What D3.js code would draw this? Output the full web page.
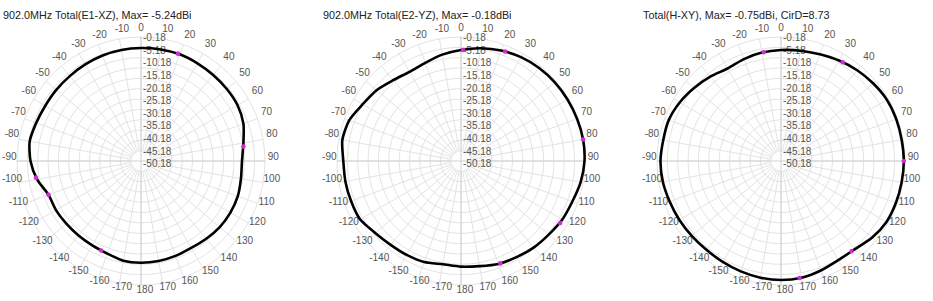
<!DOCTYPE html>
<html>
<head>
<meta charset="utf-8">
<script src="https://cdn.jsdelivr.net/npm/d3@7/dist/d3.min.js"></script>
<style>
  body { margin: 0; background: #fff; }
  text { font-family: "Liberation Sans", Arial, sans-serif; }
</style>
</head>
<body>
<svg id="chart" width="933" height="301"></svg>
<script>
// angles of the measured points, degrees clockwise from top
const angles = [0, 10, 20, 30, 40, 50, 60, 70, 80, 90, 100, 110, 120, 130, 140, 150, 160, 170,
  180, 190, 200, 210, 220, 230, 240, 250, 260, 270, 280, 290, 300, 310, 320, 330, 340, 350];

// gain in dBi
const e1xz = [-5.50, -5.36, -5.24, -5.60, -5.84, -5.99, -6.23, -7.44, -9.86, -11.31, -11.07, -10.34,
  -10.24, -10.44, -11.07, -11.60, -11.31, -11.07, -10.97, -11.16, -12.52, -13.05, -13.15, -13.00,
  -12.66, -12.52, -9.13, -6.71, -5.50, -6.23, -6.71, -6.66, -6.57, -6.23, -5.84, -5.60];
const e2yz = [-6.47, -4.78, -3.33, -2.12, -1.39, -0.91, -0.66, -0.42, -0.18, -0.42, -1.39, -2.84,
  -3.57, -4.78, -5.50, -6.47, -7.20, -8.55, -9.08, -9.47, -8.16, -7.68, -7.20, -5.99,
  -3.76, -3.57, -3.37, -3.23, -1.87, -2.60, -5.26, -6.86, -9.13, -10.34, -9.62, -7.92];
const hxy = [-6.47, -5.99, -5.26, -4.05, -2.84, -1.87, -1.00, -0.85, -0.90, -0.75, -0.90, -1.00,
  -1.24, -2.60, -4.53, -4.78, -3.81, -2.84, -2.60, -2.84, -3.33, -3.81, -4.05, -3.81,
  -3.33, -2.84, -2.12, -1.87, -2.31, -2.36, -3.57, -5.26, -6.90, -8.50, -7.70, -6.90];

// marker points [angle, dBi]
const e1xzMarks = [[19, -5.24], [82, -10.15], [204, -12.81], [250, -12.52], [261, -8.74]];
const e2yzMarks = [[1, -6.47], [22, -3.0], [80, -0.18], [122, -3.57], [159, -7.1]];
const hxyMarks = [[351, -6.9], [32, -3.85], [90, -0.75], [142, -4.73], [171, -2.84]];

const titles = [
  '902.0MHz Total(E1-XZ), Max= -5.24dBi',
  '902.0MHz Total(E2-YZ), Max= -0.18dBi',
  'Total(H-XY), Max= -0.75dBi, CirD=8.73'
];

const ringLevels = [-55.18, -50.18, -45.18, -40.18, -35.18, -30.18, -25.18, -20.18, -15.18, -10.18, -5.18, -0.18];
const dbLabels = ['-0.18', '-5.18', '-10.18', '-15.18', '-20.18', '-25.18', '-30.18', '-35.18',
  '-40.18', '-45.18', '-50.18'];
const angleTicks = [0, 10, 20, 30, 40, 50, 60, 70, 80, 90, 100, 110, 120, 130, 140, 150, 160, 170,
  180, -170, -160, -150, -140, -130, -120, -110, -100, -90, -80, -70, -60, -50, -40, -30, -20, -10];

const svg = d3.select('#chart');
const rad = d => d * Math.PI / 180;

const r = d3.scaleLinear().domain([-60.18, -0.18]).range([0, 124]);

const panels = [
  {cx: 141, cy: 161, title: titles[0], vals: e1xz, marks: e1xzMarks},
  {cx: 461, cy: 161, title: titles[1], vals: e2yz, marks: e2yzMarks},
  {cx: 781, cy: 161, title: titles[2], vals: hxy, marks: hxyMarks}
];

panels.forEach(p => {
  const g = svg.append('g').attr('transform', `translate(${p.cx},${p.cy})`);

  // rings
  g.selectAll('.ring').data(ringLevels).enter().append('circle')
    .attr('r', d => r(d))
    .attr('fill', 'none')
    .attr('stroke', '#e3e3e3')
    .attr('stroke-width', 1);

  // spokes every 10 deg
  const inner = r(ringLevels[0]), outer = r(-0.18);
  g.selectAll('.spoke').data(angles).enter().append('line')
    .attr('x1', d => inner * Math.sin(rad(d)))
    .attr('y1', d => -inner * Math.cos(rad(d)))
    .attr('x2', d => outer * Math.sin(rad(d)))
    .attr('y2', d => -outer * Math.cos(rad(d)))
    .attr('stroke', '#e3e3e3')
    .attr('stroke-width', 1);

  // main axes through the centre
  g.append('line').attr('x1', 0).attr('x2', 0).attr('y1', -outer).attr('y2', outer)
    .attr('stroke', '#d0d0d0');
  g.append('line').attr('y1', 0).attr('y2', 0).attr('x1', -outer).attr('x2', outer)
    .attr('stroke', '#d0d0d0');

  // dB labels, stacked down the 0 axis
  g.selectAll('.dbl').data(dbLabels).enter().append('text')
    .attr('x', 2)
    .attr('y', (d, i) => -123.3 + i * 12.6)
    .attr('dy', '0.35em')
    .attr('font-size', 10)
    .attr('fill', '#555')
    .text(d => d);

  // angle labels (nudged a bit, like the original software does)
  g.selectAll('.al').data(angleTicks).enter().append('text')
    .attr('x', d => {
      const a = rad(d);
      return 132 * Math.sin(a) + (d === 0 ? 0 : 0.3 + 3.6 * Math.abs(Math.cos(a)));
    })
    .attr('y', d => {
      const a = rad(d);
      return -3 - 131 * Math.cos(a) - 1.8 * Math.abs(Math.sin(a));
    })
    .attr('dy', '0.35em')
    .attr('text-anchor', 'middle')
    .attr('font-size', 10)
    .attr('fill', '#555')
    .text(d => d);

  // trace
  const pts = angles.map((a, i) => [rad(a), r(p.vals[i])]);
  const line = d3.lineRadial().curve(d3.curveCardinalClosed.tension(0.3));
  g.append('path')
    .attr('d', line(pts))
    .attr('fill', 'none')
    .attr('stroke', '#000')
    .attr('stroke-width', 2.6)
    .attr('stroke-linejoin', 'round');

  // markers
  g.selectAll('.mk').data(p.marks).enter().append('circle')
    .attr('cx', d => r(d[1]) * Math.sin(rad(d[0])))
    .attr('cy', d => -r(d[1]) * Math.cos(rad(d[0])))
    .attr('r', 2.3)
    .attr('fill', '#d22ad8');

  // title
  svg.append('text')
    .attr('x', p.cx - 138)
    .attr('y', 18.5)
    .attr('font-size', 10.8)
    .attr('fill', '#222')
    .text(p.title);
});
</script>
</body>
</html>
